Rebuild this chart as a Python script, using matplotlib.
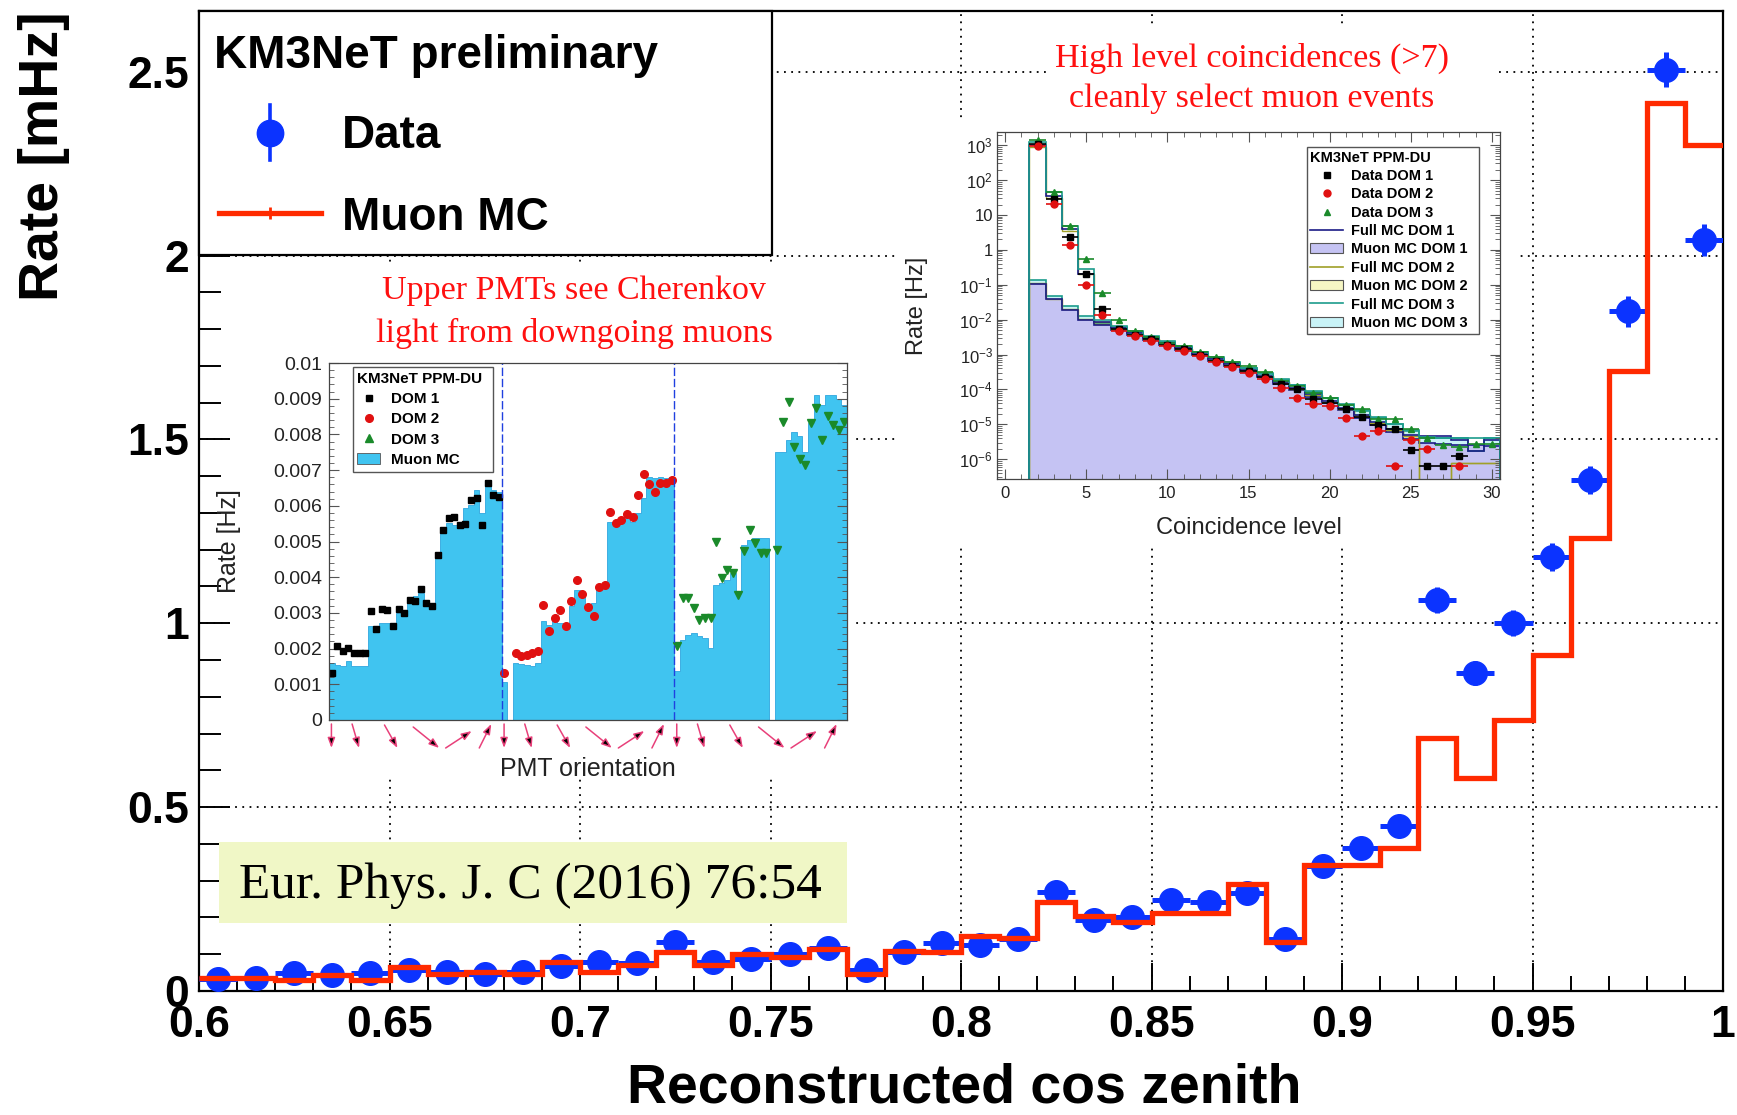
import matplotlib
matplotlib.use('Agg')
import matplotlib.pyplot as plt
import numpy as np
from matplotlib.patches import Rectangle, Patch
from matplotlib.lines import Line2D
from matplotlib.ticker import MultipleLocator, FormatStrFormatter, FuncFormatter, LogLocator, NullFormatter, AutoMinorLocator

plt.rcParams['font.family'] = 'Liberation Sans'
plt.rcParams['mathtext.fontset'] = 'custom'
plt.rcParams['mathtext.rm'] = 'Liberation Sans'
plt.rcParams['mathtext.it'] = 'Liberation Sans:italic'
plt.rcParams['mathtext.bf'] = 'Liberation Sans:bold'

# ---------------- main plot: rate vs reconstructed cos(zenith) ----------------
cos_lo, cos_hi = 0.6, 1.0
rate_data = [0.032, 0.036, 0.048, 0.044, 0.048, 0.056, 0.052, 0.046, 0.053, 0.068,
             0.078, 0.077, 0.132, 0.080, 0.088, 0.100, 0.117, 0.056, 0.106, 0.131,
             0.126, 0.142, 0.268, 0.194, 0.201, 0.248, 0.243, 0.266, 0.142, 0.341,
             0.388, 0.448, 1.063, 0.864, 1.000, 1.180, 1.390, 1.848, 2.505, 2.043]
rate_err = [0.008, 0.008, 0.009, 0.009, 0.009, 0.010, 0.010, 0.009, 0.010, 0.011,
            0.012, 0.012, 0.015, 0.012, 0.013, 0.014, 0.015, 0.010, 0.014, 0.015,
            0.015, 0.016, 0.022, 0.019, 0.019, 0.021, 0.021, 0.022, 0.016, 0.025,
            0.026, 0.028, 0.036, 0.033, 0.035, 0.037, 0.039, 0.043, 0.048, 0.043]
rate_mc = [0.035, 0.035, 0.029, 0.043, 0.029, 0.065, 0.047, 0.052, 0.045, 0.079,
           0.053, 0.070, 0.106, 0.070, 0.101, 0.092, 0.115, 0.047, 0.110, 0.106,
           0.149, 0.145, 0.242, 0.205, 0.188, 0.212, 0.212, 0.290, 0.133, 0.344,
           0.344, 0.389, 0.688, 0.579, 0.736, 0.915, 1.233, 1.686, 2.415, 2.300]
main_xticks = [0.6, 0.65, 0.7, 0.75, 0.8, 0.85, 0.9, 0.95, 1.0]
main_xtick_labels = ['0.6', '0.65', '0.7', '0.75', '0.8', '0.85', '0.9', '0.95', '1']
main_yticks = [0, 0.5, 1.0, 1.5, 2.0, 2.5]
main_ytick_labels = ['0', '0.5', '1', '1.5', '2', '2.5']

# ---------------- inset 1: rate per PMT, three DOMs x 31 PMTs ----------------
pmt_mc_dom1 = [0.00159, 0.00154, 0.00152, 0.00166, 0.00152, 0.00150, 0.00150, 0.00262, 0.00262, 0.00271,
               0.00271, 0.00266, 0.00300, 0.00300, 0.00336, 0.00346, 0.00355, 0.00327, 0.00327, 0.00463,
               0.00537, 0.00553, 0.00547, 0.00542, 0.00593, 0.00603, 0.00645, 0.00580, 0.00673, 0.00645,
               0.00640]
pmt_mc_dom2 = [0.00107, 0.0, 0.00161, 0.00157, 0.00155, 0.00151, 0.00160, 0.00276, 0.00266, 0.00276,
               0.00271, 0.00264, 0.00318, 0.00364, 0.00348, 0.00322, 0.00327, 0.00369, 0.00376, 0.00556,
               0.00556, 0.00560, 0.00575, 0.00556, 0.00580, 0.00621, 0.00682, 0.00678, 0.00682, 0.00678,
               0.00682]
pmt_mc_dom3 = [0.00136, 0.00224, 0.00238, 0.00245, 0.00234, 0.00229, 0.00201, 0.00379, 0.00385, 0.00393,
               0.00411, 0.00360, 0.00490, 0.00505, 0.00510, 0.00510, 0.00510, 0.0, 0.00752, 0.00752,
               0.00785, 0.00808, 0.00796, 0.00752, 0.00832, 0.00911, 0.00883, 0.00911, 0.00911, 0.00899,
               0.00883]
pmt_data_dom1 = [0.00131, 0.00207, 0.00192, 0.00201, 0.00189, 0.00189, 0.00189, 0.00304, 0.00254, 0.00310,
                 0.00308, 0.00262, 0.00310, 0.00301, 0.00336, 0.00334, 0.00366, 0.00329, 0.00320, 0.00463,
                 0.00531, 0.00565, 0.00570, 0.00547, 0.00549, 0.00617, 0.00621, 0.00547, 0.00665, 0.00631,
                 0.00626]
pmt_data_dom2 = [0.00131, np.nan, 0.00189, 0.00178, 0.00182, 0.00187, 0.00194, 0.00322, 0.00250, 0.00285,
                 0.00307, 0.00264, 0.00332, 0.00391, 0.00352, 0.00316, 0.00292, 0.00372, 0.00379, 0.00584,
                 0.00551, 0.00560, 0.00578, 0.00568, 0.00631, 0.00689, 0.00662, 0.00640, 0.00665, 0.00665,
                 0.00673]
pmt_data_dom3 = [0.00206, 0.00341, 0.00341, 0.00313, 0.00280, 0.00285, 0.00287, 0.00500, 0.00397, 0.00420,
                 0.00411, 0.00350, 0.00472, 0.00533, 0.00497, 0.00467, 0.00467, np.nan, 0.00477, 0.00836,
                 0.00890, 0.00764, 0.00731, 0.00715, 0.00832, 0.00874, 0.00785, 0.00852, 0.00827, 0.00813,
                 0.00834]

# ---------------- inset 2: rate vs coincidence level (levels 2..30) ----------------
coinc_level = list(range(2, 31))
coinc_data_dom1 = [1100, 28, 2.3, 0.20, 0.020, 0.0054, 0.0037, 0.0028, 0.0019, 0.00144,
                   0.00096, 0.00066, 0.00048, 0.00034, 0.00022, 0.00014, 1.0e-4, 5.3e-5, 4.2e-5, 2.7e-5,
                   1.65e-5, 9.3e-6, 7.2e-6, 1.8e-6, 6.3e-7, 6.3e-7, 1.2e-6, np.nan, np.nan]
coinc_data_dom2 = [950, 21, 1.4, 0.098, 0.0136, 0.0048, 0.0033, 0.0025, 0.0017, 0.0013,
                   0.00088, 0.00062, 0.00043, 0.00030, 0.00020, 0.000113, 5.5e-5, 3.9e-5, 3.4e-5, 1.55e-5,
                   4.7e-6, 6.3e-6, 6.3e-7, 3.6e-6, 1.9e-6, np.nan, 6.3e-7, np.nan, np.nan]
coinc_data_dom3 = [1400, 45, 5.0, 0.55, 0.060, 0.0098, 0.0048, 0.0031, 0.0022, 0.0017,
                   0.0012, 0.00083, 0.00062, 0.00048, 0.00032, 0.00018, 0.000126, 8.1e-5, 5.8e-5, 3.5e-5,
                   2.7e-5, 1.4e-5, 1.45e-5, 7.3e-6, 4.1e-6, 2.6e-6, 2.3e-6, 2.7e-6, 2.8e-6]
coinc_full_dom1 = [1000, 35, 3.9, 0.21, 0.0088, 0.0058, 0.0041, 0.0029, 0.0021, 0.0015,
                   0.00105, 0.00074, 0.00052, 0.00036, 0.00025, 0.000168, 0.000112, 7.3e-5, 4.7e-5, 3.0e-5,
                   1.9e-5, 1.2e-5, 7.5e-6, 4.8e-6, 4.5e-6, 4.5e-6, 3.6e-6, 1.7e-6, 3.6e-6]
coinc_full_dom2 = [900, 30, 3.5, 0.20, 0.0085, 0.0055, 0.0039, 0.0028, 0.0020, 0.0014,
                   0.0010, 0.00070, 0.00049, 0.00034, 0.00024, 0.00016, 0.000105, 6.8e-5, 4.4e-5, 2.8e-5,
                   1.8e-5, 1.1e-5, 7.0e-6, 4.5e-6, 0.0, 0.0, 7.7e-7, 7.7e-7, 7.7e-7]
coinc_full_dom3 = [1250, 45, 5.0, 0.29, 0.0095, 0.0065, 0.0047, 0.0033, 0.0024, 0.0017,
                   0.0012, 0.00085, 0.00060, 0.00042, 0.00030, 0.00020, 0.000135, 8.8e-5, 5.8e-5, 3.8e-5,
                   2.5e-5, 1.6e-5, 1.05e-5, 7.0e-6, 4.3e-6, 4.0e-6, 4.0e-6, 4.0e-6, 4.0e-6]
coinc_muon_dom1 = [0.104, 0.038, 0.0185, 0.0098, 0.0071, 0.0050, 0.0036, 0.0026, 0.0019, 0.00135,
                   0.00095, 0.00066, 0.00046, 0.00032, 0.00022, 0.000145, 9.5e-5, 6.2e-5, 4.0e-5, 2.5e-5,
                   1.55e-5, 9.7e-6, 6.0e-6, 3.7e-6, 3.0e-6, 2.8e-6, 2.6e-6, 2.5e-6, 2.4e-6]
coinc_muon_dom2 = [0.110, 0.040, 0.020, 0.0105, 0.0075, 0.0052, 0.0038, 0.0027, 0.0020, 0.0014,
                   0.0010, 0.00070, 0.00049, 0.00034, 0.00024, 0.00016, 0.000105, 6.8e-5, 4.4e-5, 2.8e-5,
                   1.8e-5, 1.1e-5, 7.0e-6, 4.5e-6, 0.0, 0.0, 7.7e-7, 7.7e-7, 7.7e-7]
coinc_muon_dom3 = [0.140, 0.048, 0.025, 0.013, 0.0080, 0.0060, 0.0045, 0.0032, 0.0023, 0.0016,
                   0.00115, 0.00080, 0.00057, 0.00040, 0.00028, 0.00019, 0.00013, 8.5e-5, 5.5e-5, 3.6e-5,
                   2.4e-5, 1.5e-5, 1.0e-5, 6.5e-6, 4.0e-6, 4.0e-6, 4.0e-6, 1.7e-6, 4.0e-6]

W, H = 1737, 1115
fig = plt.figure(figsize=(W / 100, H / 100), dpi=100)


def px_rect(x0, y0, x1, y1):
    # pixel box (origin top-left) -> figure fraction [left, bottom, width, height]
    return [x0 / W, 1 - y1 / H, (x1 - x0) / W, (y1 - y0) / H]


blue = '#0b33ff'
red = '#ff2a00'

ax = fig.add_axes(px_rect(199, 11, 1723, 991), zorder=0)
edges = np.linspace(cos_lo, cos_hi, len(rate_mc) + 1)
centers = 0.5 * (edges[:-1] + edges[1:])
half = 0.5 * np.diff(edges)
ax.errorbar(centers, rate_data, xerr=half, yerr=rate_err, fmt='o', color=blue,
            ms=17, elinewidth=3.6, capsize=0, zorder=3)
ax.stairs(rate_mc, edges, baseline=None, color=red, lw=3.8, zorder=4)

ax.set_xlim(cos_lo, cos_hi)
ax.set_ylim(0, 2.665)
ax.set_xticks(main_xticks)
ax.set_xticklabels(main_xtick_labels, fontsize=32, fontweight='bold')
ax.set_yticks(main_yticks)
ax.set_yticklabels(main_ytick_labels, fontsize=32, fontweight='bold')
ax.xaxis.set_minor_locator(MultipleLocator(0.01))
ax.yaxis.set_minor_locator(MultipleLocator(0.1))
ax.tick_params(axis='x', which='major', direction='in', length=20, width=1.4, pad=10)
ax.tick_params(axis='x', which='minor', direction='in', length=11, width=1.4)
ax.tick_params(axis='y', which='major', direction='in', length=22, width=1.4, pad=7)
ax.tick_params(axis='y', which='minor', direction='in', length=16, width=1.4)
ax.grid(True, which='major', linestyle=(0, (1, 3)), linewidth=1.3, color='black')
ax.set_axisbelow(True)
for sp in ax.spines.values():
    sp.set_linewidth(1.6)

ax.set_xlabel('Reconstructed cos zenith', fontsize=40, fontweight='bold', va='center')
ax.xaxis.set_label_coords(0.502, -0.099)
ax.set_ylabel('Rate [mHz]', fontsize=40, fontweight='bold', ha='right', va='center')
ax.yaxis.set_label_coords(-0.1017, 1.0)

# legend box of the main plot
ax.add_patch(Rectangle((0, 0.751), 0.376, 0.249, transform=ax.transAxes, facecolor='white',
                       edgecolor='black', lw=1.6, zorder=6, clip_on=False))
ax.text(0.0098, 0.9418, 'KM3NeT preliminary', transform=ax.transAxes, fontsize=33,
        fontweight='bold', va='baseline', zorder=7)
ax.plot([0.0466, 0.0466], [0.8480, 0.9040], transform=ax.transAxes, color=blue, lw=2.6, zorder=7)
ax.plot([0.0466], [0.876], 'o', transform=ax.transAxes, color=blue, ms=19, zorder=7)
ax.text(0.0938, 0.860, 'Data', transform=ax.transAxes, fontsize=33, fontweight='bold',
        va='baseline', zorder=7)
ax.plot([0.0131, 0.0801], [0.7939, 0.7939], transform=ax.transAxes, color=red, lw=3.8, zorder=7)
ax.plot([0.0466], [0.7939], '|', transform=ax.transAxes, color=red, ms=8, mew=2, zorder=7)
ax.text(0.0938, 0.7765, 'Muon MC', transform=ax.transAxes, fontsize=33, fontweight='bold',
        va='baseline', zorder=7)

# white backgrounds behind the two inset figures and the annotation
for box in [(232, 262, 853, 776), (895, 118, 1518, 545), (1047, 28, 1495, 118)]:
    r = px_rect(*box)
    fig.add_artist(Rectangle((r[0], r[1]), r[2], r[3], transform=fig.transFigure,
                             facecolor='white', edgecolor='none', zorder=1))

serif = 'Liberation Serif'
fig.text(574 / W, 1 - 291 / H, 'Upper PMTs see Cherenkov', family=serif, fontsize=24.5,
         color='#ff1010', ha='center', va='center', zorder=3)
fig.text(574 / W, 1 - 333 / H, 'light from downgoing muons', family=serif, fontsize=24.5,
         color='#ff1010', ha='center', va='center', zorder=3)
fig.text(1252 / W, 1 - 58 / H, 'High level coincidences (>7)', family=serif, fontsize=24.5,
         color='#ff1010', ha='center', va='center', zorder=3)
fig.text(1252 / W, 1 - 99 / H, 'cleanly select muon events', family=serif, fontsize=24.5,
         color='#ff1010', ha='center', va='center', zorder=3)

r = px_rect(219, 842, 847, 923)
fig.add_artist(Rectangle((r[0], r[1]), r[2], r[3], transform=fig.transFigure,
                         facecolor='#f0f7c6', edgecolor='none', zorder=1))
fig.text(239 / W, 1 - 886 / H, 'Eur. Phys. J. C (2016) 76:54', family=serif, fontsize=37,
         color='black', ha='left', va='center', zorder=3)

# ---------------- inset 1 ----------------
ax1 = fig.add_axes(px_rect(329, 363, 847, 720), zorder=2)
pmt_mc = pmt_mc_dom1 + pmt_mc_dom2 + pmt_mc_dom3
n_pmt = len(pmt_mc_dom1)
pmt_edges = np.arange(len(pmt_mc) + 1)
pmt_x = np.arange(n_pmt) + 0.5
cyan = '#40c4f0'
ax1.stairs(pmt_mc, pmt_edges, fill=True, facecolor=cyan, edgecolor='#2fa6de', lw=0.6, baseline=0)
ax1.plot(pmt_x, pmt_data_dom1, 's', color='black', ms=5)
ax1.plot(pmt_x + n_pmt, pmt_data_dom2, 'o', color='#e01010', ms=5.5)
ax1.plot(pmt_x + 2 * n_pmt, pmt_data_dom3, 'v', color='#1a8a2a', ms=6)
for k in (1, 2):
    ax1.axvline(k * n_pmt, color='#2040e0', lw=1.0, ls=(0, (6, 2)))
ax1.set_xlim(0, 3 * n_pmt)
ax1.set_ylim(0, 0.01)
ax1.set_xticks([])
ax1.yaxis.set_major_locator(MultipleLocator(0.001))
ax1.yaxis.set_minor_locator(AutoMinorLocator(5))
ax1.yaxis.set_major_formatter(FormatStrFormatter('%g'))
ax1.tick_params(axis='y', which='both', direction='in', left=True, right=True,
                labelsize=14, labelcolor='#222222', color='#555555', pad=5)
ax1.tick_params(axis='y', which='major', length=7)
ax1.tick_params(axis='y', which='minor', length=3.5)
for sp in ax1.spines.values():
    sp.set_linewidth(0.9)
    sp.set_color('#444444')
ax1.set_ylabel('Rate [Hz]', fontsize=18, color='#222222')
ax1.yaxis.set_label_coords(-0.17, 0.5)
ax1.set_xlabel('PMT orientation', fontsize=18, color='#222222', va='center')
ax1.xaxis.set_label_coords(0.5, -0.137)

# PMT pointing directions below the axis, one arrow per ring and DOM
ring_frac = [0.014, 0.154, 0.359, 0.563, 0.751, 0.905]
ring_tail_px = [(0, -4), (-3.5, -4), (-6.5, -5), (-13, -7), (-13, -28), (-6, -28)]
ring_head_px = [(0, -28), (3.5, -28), (6.5, -28), (13, -28), (13, -11), (6, -4)]
for dom in range(3):
    for f, (tx, ty), (hx, hy) in zip(ring_frac, ring_tail_px, ring_head_px):
        xc = (dom + f) / 3
        ax1.annotate('', xy=(xc + hx / 518, hy / 357), xytext=(xc + tx / 518, ty / 357),
                     xycoords='axes fraction', textcoords='axes fraction', annotation_clip=False,
                     arrowprops=dict(arrowstyle='-|>,head_length=0.6,head_width=0.22',
                                     mutation_scale=10, lw=1.1, ec='#e8407a', fc='black',
                                     shrinkA=0, shrinkB=0))

h1 = [Line2D([], [], ls='', marker='s', color='black', ms=5),
      Line2D([], [], ls='', marker='o', color='#e01010', ms=5.5),
      Line2D([], [], ls='', marker='^', color='#1a8a2a', ms=5.5),
      Patch(facecolor=cyan, edgecolor='#555555', lw=0.6)]
leg1 = ax1.legend(h1, ['DOM 1', 'DOM 2', 'DOM 3', 'Muon MC'], loc='upper left',
                  bbox_to_anchor=(0.046, 0.675, 0.271, 0.314), mode='expand',
                  title='KM3NeT PPM-DU', alignment='left',
                  title_fontproperties={'weight': 'bold', 'size': 11},
                  prop={'weight': 'bold', 'size': 11}, handlelength=1.5, handletextpad=0.7,
                  labelspacing=0.42, borderpad=0.3, fancybox=False, framealpha=1,
                  edgecolor='#555555', borderaxespad=0)
leg1.get_frame().set_linewidth(1.0)

# ---------------- inset 2 ----------------
ax2 = fig.add_axes(px_rect(997, 132, 1500, 479), zorder=2)
lev = np.array(coinc_level)
lev_edges = np.append(lev - 0.5, lev[-1] + 0.5)
tiny = 1e-12
navy, olive, teal = '#1b1b86', '#a0a028', '#1c9c8c'
lav, pale_yel, pale_cyan = '#c5c3f3', '#f6f6c4', '#c9f3f7'


def pos(v):
    return np.clip(np.asarray(v, dtype=float), tiny, None)


ax2.stairs(pos(coinc_muon_dom3), lev_edges, fill=True, facecolor=pale_cyan, baseline=tiny)
ax2.stairs(pos(coinc_muon_dom2), lev_edges, fill=True, facecolor=pale_yel, baseline=tiny)
ax2.stairs(pos(coinc_muon_dom1), lev_edges, fill=True, facecolor=lav, baseline=tiny)
ax2.stairs(pos(coinc_muon_dom3), lev_edges, color=teal, lw=1.2, baseline=tiny)
ax2.stairs(pos(coinc_muon_dom2), lev_edges, color=olive, lw=1.0, baseline=tiny)
ax2.stairs(pos(coinc_muon_dom1), lev_edges, color=navy, lw=1.2, baseline=tiny)
ax2.stairs(pos(coinc_full_dom2), lev_edges, color=olive, lw=1.0, baseline=tiny)
ax2.stairs(pos(coinc_full_dom1), lev_edges, color=navy, lw=1.2, baseline=tiny)
ax2.stairs(pos(coinc_full_dom3), lev_edges, color=teal, lw=1.2, baseline=tiny)
ax2.errorbar(lev, coinc_data_dom3, xerr=0.5, fmt='^', color='#1a8a2a', ms=5, elinewidth=1.2, capsize=0)
ax2.errorbar(lev, coinc_data_dom1, xerr=0.5, fmt='s', color='black', ms=5, elinewidth=1.2, capsize=0)
ax2.errorbar(lev, coinc_data_dom2, xerr=0.5, fmt='o', color='#e01010', ms=5, elinewidth=1.2, capsize=0)
ax2.set_yscale('log')
ax2.set_xlim(-0.5, 30.5)
ax2.set_ylim(2.7e-7, 2.4e3)


def pow10(v, p):
    e = int(round(np.log10(v)))
    if e == 0:
        return '1'
    if e == 1:
        return '10'
    return r'$\mathregular{10^{%d}}$' % e


ax2.yaxis.set_major_locator(LogLocator(base=10, numticks=20))
ax2.yaxis.set_major_formatter(FuncFormatter(pow10))
ax2.yaxis.set_minor_locator(LogLocator(base=10, subs=np.arange(2, 10), numticks=20))
ax2.yaxis.set_minor_formatter(NullFormatter())
ax2.xaxis.set_major_locator(MultipleLocator(5))
ax2.xaxis.set_minor_locator(MultipleLocator(1))
ax2.tick_params(axis='both', which='both', direction='in', top=True, right=True,
                labelsize=12, labelcolor='#222222', color='#555555')
ax2.tick_params(axis='both', which='major', length=7)
ax2.tick_params(axis='both', which='minor', length=3.5)
ax2.tick_params(axis='y', pad=3)
ax2.tick_params(axis='x', pad=5)
for sp in ax2.spines.values():
    sp.set_linewidth(0.9)
    sp.set_color('#444444')
ax2.set_xlabel('Coincidence level', fontsize=17, color='#222222', va='center')
ax2.xaxis.set_label_coords(0.5, -0.141)
ax2.set_ylabel('Rate [Hz]', fontsize=17, color='#222222')
ax2.yaxis.set_label_coords(-0.137, 0.5)

h2 = [Line2D([], [], ls='', marker='s', color='black', ms=5),
      Line2D([], [], ls='', marker='o', color='#e01010', ms=5),
      Line2D([], [], ls='', marker='^', color='#1a8a2a', ms=5),
      Line2D([], [], color=navy, lw=1.2),
      Patch(facecolor=lav, edgecolor='#555555', lw=0.8),
      Line2D([], [], color=olive, lw=1.2),
      Patch(facecolor=pale_yel, edgecolor='#555555', lw=0.8),
      Line2D([], [], color=teal, lw=1.2),
      Patch(facecolor=pale_cyan, edgecolor='#555555', lw=0.8)]
l2 = ['Data DOM 1', 'Data DOM 2', 'Data DOM 3', 'Full MC DOM 1', 'Muon MC DOM 1',
      'Full MC DOM 2', 'Muon MC DOM 2', 'Full MC DOM 3', 'Muon MC DOM 3']
leg2 = ax2.legend(h2, l2, loc='upper left', bbox_to_anchor=(0.616, 0.40, 0.342, 0.557),
                  mode='expand', title='KM3NeT PPM-DU', alignment='left',
                  title_fontproperties={'weight': 'bold', 'size': 10.5},
                  prop={'weight': 'bold', 'size': 10.5}, handlelength=2.2, handletextpad=0.6,
                  labelspacing=0.3, borderpad=0.25, fancybox=False, framealpha=1,
                  edgecolor='#555555', borderaxespad=0)
leg2.get_frame().set_linewidth(1.0)

fig.savefig('out.png', dpi=100)
